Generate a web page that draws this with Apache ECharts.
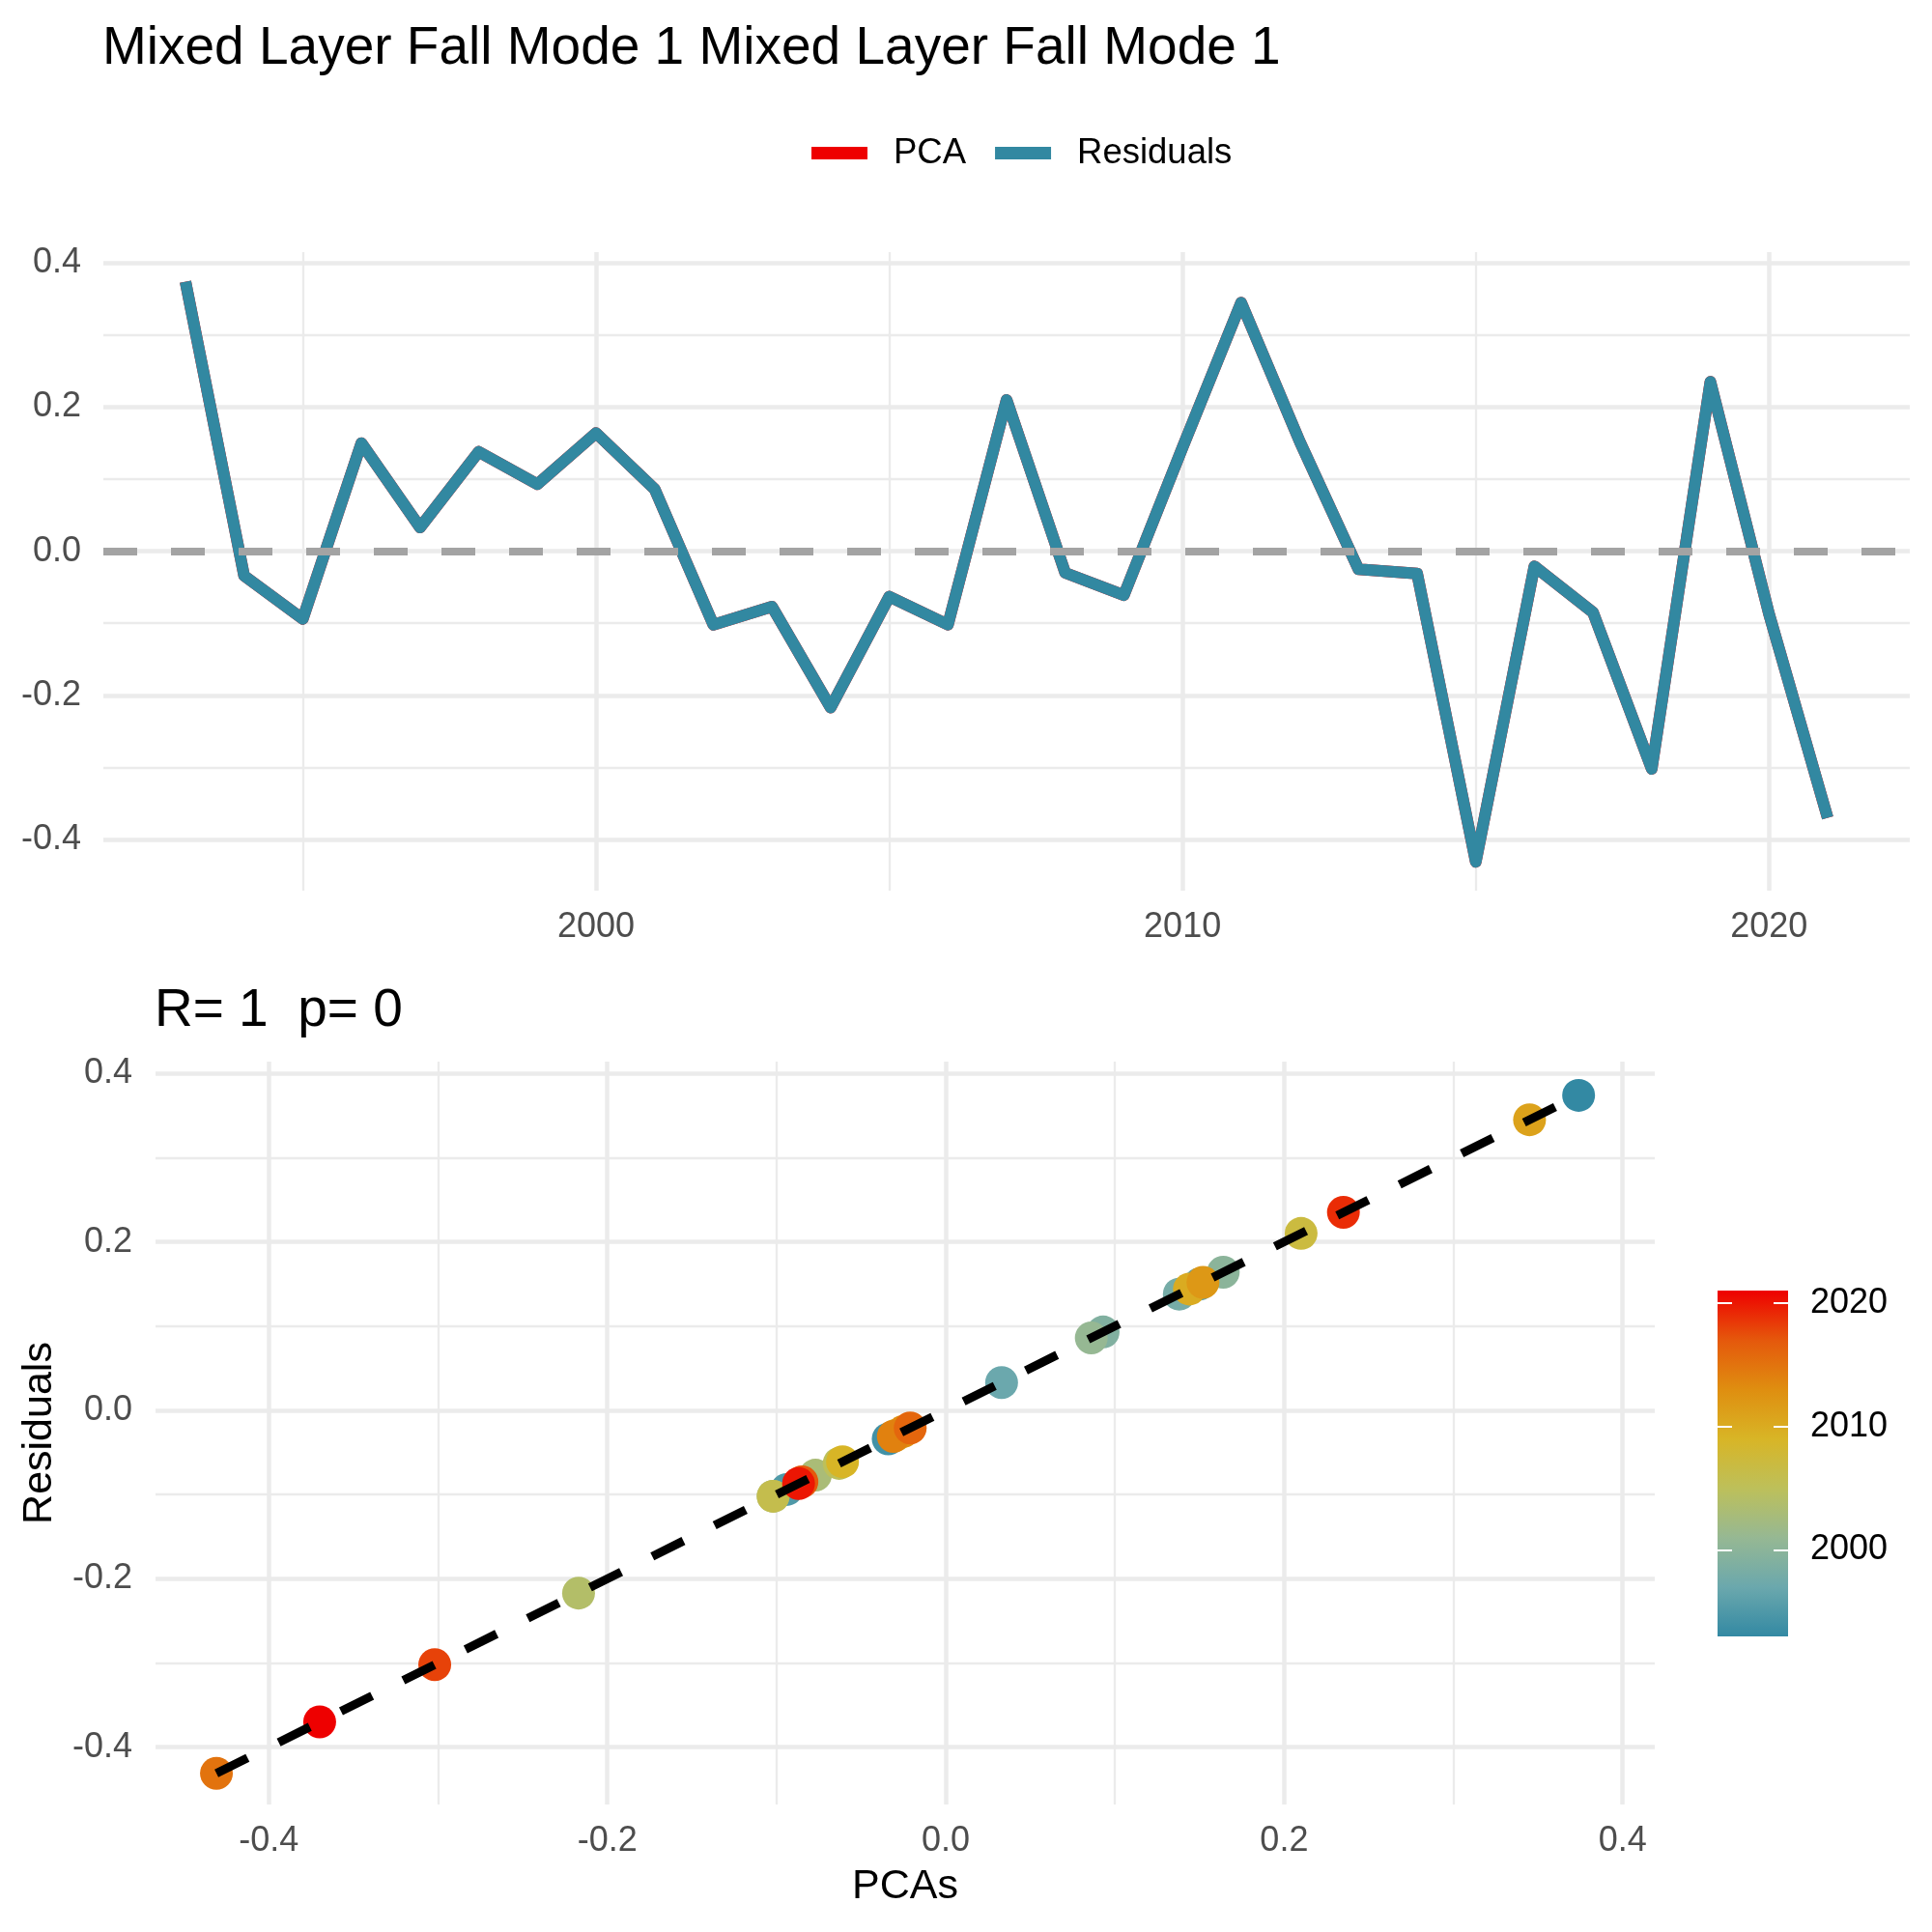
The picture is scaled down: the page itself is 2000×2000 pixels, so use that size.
<!DOCTYPE html>
<html>
<head>
<meta charset="utf-8">
<script src="https://cdn.jsdelivr.net/npm/echarts@6/dist/echarts.min.js"></script>
<style>
  body { margin: 0; background: #fff; }
  #main { width: 2000px; height: 2000px; }
</style>
</head>
<body>
<div id="main"></div>
<script>
var years = [1993, 1994, 1995, 1996, 1997, 1998, 1999, 2000, 2001, 2002,
             2003, 2004, 2005, 2006, 2007, 2008, 2009, 2010, 2011, 2012,
             2013, 2014, 2015, 2016, 2017, 2018, 2019, 2020, 2021];
var residuals = [0.374, -0.034, -0.094, 0.150, 0.033, 0.138, 0.093, 0.164, 0.086, -0.102,
                 -0.077, -0.217, -0.063, -0.102, 0.210, -0.030, -0.061, 0.144, 0.345, 0.152,
                 -0.025, -0.031, -0.431, -0.021, -0.085, -0.302, 0.235, -0.087, -0.370];
// the PCA series lies exactly under the residuals (R = 1)
var pcas = [0.374, -0.034, -0.094, 0.150, 0.033, 0.138, 0.093, 0.164, 0.086, -0.102,
            -0.077, -0.217, -0.063, -0.102, 0.210, -0.030, -0.061, 0.144, 0.345, 0.152,
            -0.025, -0.031, -0.431, -0.021, -0.085, -0.302, 0.235, -0.087, -0.370];
var fitLine = [[-0.431, -0.431], [0.378, 0.378]];

var majorTicks = [-0.4, -0.2, 0, 0.2, 0.4];
var minorTicks = [-0.3, -0.1, 0.1, 0.3];
var yearMajor = [2000, 2010, 2020];
var yearMinor = [1995, 2005, 2015];
var yearColors = ['#3389A3', '#6BA8AD', '#96B893', '#BDC05A', '#D8B526', '#DF8E10', '#E5580C', '#EE0000'];

var FONT = "'Liberation Sans', Arial, sans-serif";
var GRID_COLOR = '#EBEBEB';

function lineSeries(name, data, color, z) {
    return {
        name: name,
        type: 'line',
        xAxisIndex: 0,
        yAxisIndex: 0,
        z: z,
        data: years.map(function (y, i) { return [y, data[i]]; }),
        showSymbol: false,
        symbol: 'none',
        color: color,
        lineStyle: { color: color, width: 12, cap: 'butt', join: 'round' }
    };
}

function fmt(v) {
    return Math.abs(v) < 5 ? v.toFixed(1) : String(Math.round(v));
}

function majorAxis(grid, min, max, ticks, labelMargin, extra) {
    var a = {
        type: 'value',
        gridIndex: grid,
        min: min,
        max: max,
        axisLine: { show: false },
        axisTick: { show: false, customValues: ticks },
        axisLabel: {
            customValues: ticks,
            margin: labelMargin,
            fontFamily: FONT,
            fontSize: 36,
            color: '#4D4D4D',
            formatter: fmt
        },
        splitLine: { show: true, lineStyle: { color: GRID_COLOR, width: 4.5 } }
    };
    return Object.assign(a, extra || {});
}

function minorAxis(grid, min, max, ticks) {
    return {
        type: 'value',
        gridIndex: grid,
        min: min,
        max: max,
        axisLine: { show: false },
        axisTick: { show: false, customValues: ticks },
        axisLabel: { show: false },
        splitLine: { show: true, lineStyle: { color: GRID_COLOR, width: 2.3 } }
    };
}

var chart = echarts.init(document.getElementById('main'), null, { renderer: 'canvas' });

var option = {
    backgroundColor: '#ffffff',
    animation: false,
    title: [
        {
            text: 'Mixed Layer Fall Mode 1 Mixed Layer Fall Mode 1',
            left: 101, top: 18,
            textStyle: { fontFamily: FONT, fontSize: 55, fontWeight: 'normal', color: '#000' }
        },
        {
            text: 'R= 1  p= 0',
            left: 155, top: 1014,
            textStyle: { fontFamily: FONT, fontSize: 55, fontWeight: 'normal', color: '#000' }
        }
    ],
    legend: {
        data: ['PCA', 'Residuals'],
        left: 835, top: 135,
        icon: 'rect',
        itemWidth: 58, itemHeight: 13,
        itemGap: 30,
        textStyle: { fontFamily: FONT, fontSize: 36.5, color: '#000', padding: [0, 0, 0, 22] }
    },
    grid: [
        { left: 107, right: 23, top: 261, bottom: 1078, outerBoundsMode: 'none', containLabel: false },
        { left: 161, right: 287, top: 1099, bottom: 132, outerBoundsMode: 'none', containLabel: false },
        { left: 1778, width: 73, top: 1336, height: 358, outerBoundsMode: 'none', containLabel: false }
    ],
    visualMap: [{
        type: 'continuous',
        show: false,
        seriesIndex: 2,
        dimension: 2,
        min: years[0],
        max: years[years.length - 1],
        inRange: { color: yearColors }
    }],
    xAxis: [
        majorAxis(0, 1991.6, 2022.4, yearMajor, 20),
        minorAxis(0, 1991.6, 2022.4, yearMinor),
        majorAxis(1, -0.467, 0.419, majorTicks, 20, {
            name: 'PCAs', nameLocation: 'middle', nameGap: 64,
            nameTextStyle: { fontFamily: FONT, fontSize: 43, color: '#000' }
        }),
        minorAxis(1, -0.467, 0.419, minorTicks),
        {
            type: 'category', gridIndex: 2, data: ['bar'],
            show: false
        }
    ],
    yAxis: [
        majorAxis(0, -0.471, 0.415, majorTicks, 23),
        minorAxis(0, -0.471, 0.415, minorTicks),
        majorAxis(1, -0.468, 0.414, majorTicks, 24, {
            name: 'Residuals', nameLocation: 'middle', nameGap: 98, nameRotate: 90,
            nameTextStyle: { fontFamily: FONT, fontSize: 43, color: '#000' }
        }),
        minorAxis(1, -0.468, 0.414, minorTicks),
        {
            type: 'value', gridIndex: 2, position: 'left', z: 5,
            min: years[0], max: years[years.length - 1],
            axisLine: { show: false },
            axisTick: { show: true, inside: true, length: 15, customValues: yearMajor,
                        lineStyle: { color: '#ffffff', width: 2 } },
            axisLabel: { show: false },
            splitLine: { show: false }
        },
        {
            type: 'value', gridIndex: 2, position: 'right', z: 5,
            min: years[0], max: years[years.length - 1],
            axisLine: { show: false },
            axisTick: { show: true, inside: true, length: 15, customValues: yearMajor,
                        lineStyle: { color: '#ffffff', width: 2 } },
            axisLabel: { show: true, customValues: yearMajor, margin: 23,
                         fontFamily: FONT, fontSize: 36, color: '#000',
                         formatter: function (v) { return String(v); } },
            splitLine: { show: false }
        }
    ],
    series: [
        Object.assign(lineSeries('PCA', pcas, '#EE0000', 2), {
            markLine: {
                silent: true,
                symbol: 'none',
                label: { show: false },
                lineStyle: { color: '#A3A3A3', width: 8, type: [35, 35], cap: 'butt' },
                data: [{ yAxis: 0 }]
            }
        }),
        lineSeries('Residuals', residuals, '#3288A1', 3),
        {
            name: 'years',
            type: 'scatter',
            xAxisIndex: 2,
            yAxisIndex: 2,
            z: 2,
            symbolSize: 34,
            data: years.map(function (y, i) { return [pcas[i], residuals[i], y]; }),
            itemStyle: { opacity: 1 }
        },
        {
            name: 'fit',
            type: 'line',
            xAxisIndex: 2,
            yAxisIndex: 2,
            z: 4,
            symbol: 'none',
            data: fitLine,
            lineStyle: { color: '#000', width: 9, type: [36, 36], cap: 'butt' }
        },
        {
            name: 'barBase',
            type: 'bar',
            xAxisIndex: 4,
            yAxisIndex: 4,
            stack: 'cb',
            barWidth: '100%',
            silent: true,
            itemStyle: { color: 'rgba(0,0,0,0)' },
            data: [years[0]]
        },
        {
            name: 'colorbar',
            type: 'bar',
            xAxisIndex: 4,
            yAxisIndex: 4,
            stack: 'cb',
            barWidth: '100%',
            silent: true,
            z: 2,
            itemStyle: {
                color: new echarts.graphic.LinearGradient(0, 1, 0, 0,
                    yearColors.map(function (c, i) {
                        return { offset: i / (yearColors.length - 1), color: c };
                    }))
            },
            data: [years[years.length - 1] - years[0]]
        }
    ]
};

chart.setOption(option);
</script>
</body>
</html>
